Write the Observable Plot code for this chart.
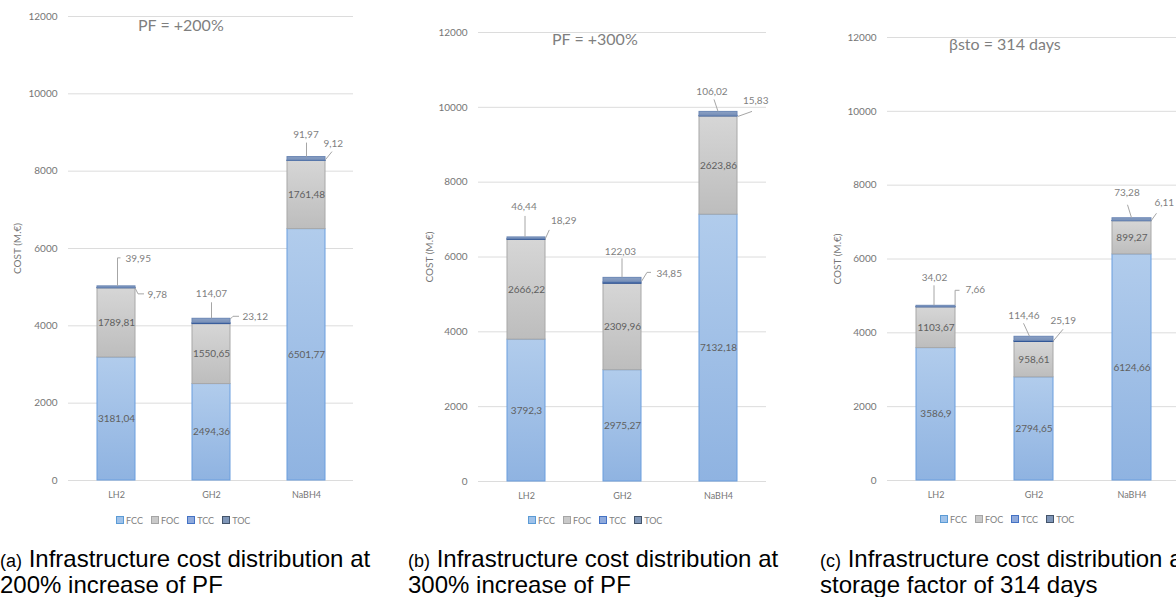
<!DOCTYPE html>
<html>
<head>
<meta charset="utf-8">
<script src="https://cdn.jsdelivr.net/npm/d3@7"></script>
<script src="https://cdn.jsdelivr.net/npm/@observablehq/plot@0.6"></script>
<style>
  html, body { margin: 0; padding: 0; background: #fff; }
  body { width: 1176px; height: 597px; overflow: hidden; position: relative; font-family: Lato, "Open Sans", sans-serif; }
  .panel { position: absolute; top: 0; }
  .note { position: absolute; font-family: Lato, sans-serif; font-size: 16px; line-height: 16px; color: #7f7f7f; white-space: nowrap; }
  .legend { position: absolute; display: flex; align-items: center; height: 10px; font-family: Lato, sans-serif; font-size: 9px; color: #7f7f7f; white-space: nowrap; }
  .legend .item { display: flex; align-items: center; margin-right: 8px; }
  .legend .item:last-child { margin-right: 0; }
  .legend .sw { display: inline-block; width: 6px; height: 6px; border: 1px solid; margin-right: 2px; }
  .caption { position: absolute; font-family: "Liberation Sans", Arial, sans-serif; font-size: 24px; line-height: 23px; color: #000; white-space: nowrap; }
  .caption .tag { font-size: 18px; }
</style>
</head>
<body>
<script>
// ---------------- data ----------------
const categories = ["LH2", "GH2", "NaBH4"];
const seriesNames = ["FCC", "FOC", "TCC", "TOC"];
const yTicks = [0, 2000, 4000, 6000, 8000, 10000, 12000];
const yLabel = "COST (M.€)";

// (a) PF = +200%
const fccA = [3181.04, 2494.36, 6501.77];
const focA = [1789.81, 1550.65, 1761.48];
const tccA = [9.78, 23.12, 9.12];
const tocA = [39.95, 114.07, 91.97];

// (b) PF = +300%
const fccB = [3792.3, 2975.27, 7132.18];
const focB = [2666.22, 2309.96, 2623.86];
const tccB = [18.29, 34.85, 15.83];
const tocB = [46.44, 122.03, 106.02];

// (c) storage factor 314 days
const fccC = [3586.9, 2794.65, 6124.66];
const focC = [1103.67, 958.61, 899.27];
const tccC = [7.66, 25.19, 6.11];
const tocC = [34.02, 114.46, 73.28];

const notes = ["PF = +200%", "PF = +300%", "βsto = 314 days"];
const captionTags = ["(a)", "(b)", "(c)"];
const captionLines = [
  ["Infrastructure cost distribution at", "200% increase of PF"],
  ["Infrastructure cost distribution at", "300% increase of PF"],
  ["Infrastructure cost distribution at", "storage factor of 314 days"]
];

// ---------------- styles ----------------
const seriesStyle = {
  FCC: {top: "#b1ccec", bottom: "#8fb3e1", stroke: "#6a9ede", swatch: "#9fc2ea", swatchStroke: "#5b9bd5"},
  FOC: {top: "#d6d6d6", bottom: "#bdbdbd", stroke: "#a8a8a8", swatch: "#c9c9c9", swatchStroke: "#a5a5a5"},
  TCC: {top: "#3f68b0", bottom: "#2f5597", stroke: "#2f5597", swatch: "#8faadc", swatchStroke: "#4472c4"},
  TOC: {top: "#8aa0c4", bottom: "#7890b8", stroke: "#6a86b4", swatch: "#7f96b8", swatchStroke: "#44546a"}
};

// leader-label layout (pixel offsets from bar top-centre)
const leaderLayouts = [
  [
    {TOC: {text: [9.5, -27, "start"], path: [[1.5, 0], [1.5, -28], [4.5, -28]]},
     TCC: {text: [31.5, 8.5, "start"], path: [[19, 2], [22, 8], [28, 8]]}},
    {TOC: {text: [0.5, -25, "middle"], path: [[0.5, 0], [0.5, -16]]},
     TCC: {text: [31.5, -2, "start"], path: [[19, 1], [22, -2], [28, -2]]}},
    {TOC: {text: [0, -22, "middle"], path: [[0.5, 0], [0.5, -14]]},
     TCC: {text: [17.5, -13, "start"], path: [[19.5, 3], [26, -5]]}}
  ],
  [
    {TOC: {text: [-2, -30, "middle"], path: [[-1, 0], [-1, -21]]},
     TCC: {text: [25, -16, "start"], path: [[19.3, 1.8], [23.3, -7]]}},
    {TOC: {text: [-1.5, -26, "middle"], path: [[0, 0], [0, -19]]},
     TCC: {text: [34.5, -3.5, "start"], path: [[19.5, 4], [25, -5], [29, -5]]}},
    {TOC: {text: [-6, -20, "middle"], path: [[0, 0], [-4, -12]]},
     TCC: {text: [25, -11, "start"], path: [[20, 5], [34, 0]]}}
  ],
  [
    {TOC: {text: [-1, -28, "middle"], path: [[-1.5, 0], [-1.5, -20]]},
     TCC: {text: [30, -16, "start"], path: [[19.6, 0], [19.6, -15], [24, -15]]}},
    {TOC: {text: [-9.5, -21, "middle"], path: [[-4, 0], [-10, -13]]},
     TCC: {text: [17, -16, "start"], path: [[19.5, 5], [29.5, -7]]}},
    {TOC: {text: [-4.5, -25, "middle"], path: [[0, 0], [-4, -13]]},
     TCC: {text: [23, -15.5, "start"], path: [[19.6, 3], [25, -4.5]]}}
  ]
];

const panels = [
  {key: "a", values: {FCC: fccA, FOC: focA, TCC: tccA, TOC: tocA}, left: 0, width: 390,
   marginLeft: 68, marginRight: 37, marginTop: 16, marginBottom: 20, labelOffset: 55,
   note: {left: 138, top: 17}, legend: {center: 183, top: 515}, caption: {left: 0, top: 547}},
  {key: "b", values: {FCC: fccB, FOC: focB, TCC: tccB, TOC: tocB}, left: 390, width: 400,
   marginLeft: 88, marginRight: 24, marginTop: 32, marginBottom: 19, labelOffset: 53,
   note: {left: 552, top: 31}, legend: {center: 595, top: 515}, caption: {left: 408, top: 547}},
  {key: "c", values: {FCC: fccC, FOC: focC, TCC: tccC, TOC: tocC}, left: 790, width: 400,
   marginLeft: 97, marginRight: 9, marginTop: 37, marginBottom: 20, labelOffset: 54,
   note: {left: 949, top: 36}, legend: {center: 1007, top: 514}, caption: {left: 820, top: 547}}
];

const fmt = v => String(v).replace(".", ",");

function buildRows(values) {
  const rows = [];
  categories.forEach((cat, i) => {
    let base = 0;
    for (const s of seriesNames) {
      const v = values[s][i];
      rows.push({cat, series: s, value: v, y1: base, y2: base + v});
      base += v;
    }
  });
  return rows;
}

function makePanel(p, idx) {
  const rows = buildRows(p.values);
  const totals = categories.map(cat => ({cat, total: d3.sum(rows.filter(r => r.cat === cat), r => r.value)}));
  const gid = s => `grad-${p.key}-${s}`;

  const defsMark = () => {
    const g = d3.create("svg:g");
    const defs = g.append("defs");
    for (const s of seriesNames) {
      const st = seriesStyle[s];
      const lg = defs.append("linearGradient").attr("id", gid(s))
        .attr("x1", 0).attr("y1", 0).attr("x2", 0).attr("y2", 1);
      lg.append("stop").attr("offset", "0%").attr("stop-color", st.top);
      lg.append("stop").attr("offset", "100%").attr("stop-color", st.bottom);
    }
    return g.node();
  };

  const leaderMark = (index, scales) => {
    const {x, y} = scales;
    const bw = x.bandwidth ? x.bandwidth() : 38;
    const g = d3.create("svg:g");
    totals.forEach((t, i) => {
      const cx = x(t.cat) + bw / 2;
      const top = y(t.total);
      for (const s of ["TOC", "TCC"]) {
        const L = leaderLayouts[idx][i][s];
        g.append("path")
          .attr("d", d3.line()(L.path.map(([dx, dy]) => [cx + dx, top + dy])))
          .attr("fill", "none").attr("stroke", "#a6a6a6").attr("stroke-width", 1);
        const v = rows.find(r => r.cat === t.cat && r.series === s).value;
        g.append("text")
          .attr("x", cx + L.text[0]).attr("y", top + L.text[1]).attr("dy", "0.35em")
          .attr("text-anchor", L.text[2]).attr("fill", "#7f7f7f")
          .attr("font-size", 10).attr("font-family", "Lato, sans-serif")
          .text(fmt(v));
      }
    });
    return g.node();
  };

  const marks = [
    defsMark,
    Plot.ruleY(yTicks, {stroke: "#dcdcdc", strokeWidth: 1}),
    ...seriesNames.map(s => Plot.barY(rows.filter(r => r.series === s), {
      x: "cat", y1: "y1", y2: "y2",
      fill: `url(#${gid(s)})`, stroke: seriesStyle[s].stroke, strokeWidth: 1
    })),
    Plot.text(rows.filter(r => r.series === "FCC" || r.series === "FOC"), {
      x: "cat", y: r => (r.y1 + r.y2) / 2, text: r => fmt(r.value),
      fill: "#5f5f5f", fontSize: 10
    }),
    leaderMark,
    Plot.axisX({tickSize: 0, tickPadding: 11, fontSize: 9, label: null, fill: "#767676"}),
    Plot.axisY({ticks: yTicks, tickSize: 0, tickPadding: 11, tickFormat: d3.format("d"),
      label: yLabel, labelAnchor: "center", labelOffset: p.labelOffset, labelArrow: "none", fill: "#767676"})
  ];

  const chart = Plot.plot({
    width: p.width, height: 500,
    marginLeft: p.marginLeft, marginRight: p.marginRight, marginTop: p.marginTop, marginBottom: p.marginBottom,
    x: {domain: categories, paddingInner: 0.6, paddingOuter: 0.3},
    y: {domain: [0, 12000]},
    style: {fontFamily: "Lato, sans-serif", fontSize: "10px", color: "#767676", background: "transparent", overflow: "visible"},
    marks
  });
  chart.classList.add("panel");
  chart.style.left = p.left + "px";
  document.body.appendChild(chart);

  // panel note
  const note = document.createElement("div");
  note.className = "note";
  note.style.left = p.note.left + "px";
  note.style.top = p.note.top + "px";
  note.textContent = notes[idx];
  document.body.appendChild(note);

  // legend
  const lg = document.createElement("div");
  lg.className = "legend";
  lg.style.top = p.legend.top + "px";
  for (const s of seriesNames) {
    const item = document.createElement("span");
    item.className = "item";
    const sw = document.createElement("span");
    sw.className = "sw";
    sw.style.background = seriesStyle[s].swatch;
    sw.style.borderColor = seriesStyle[s].swatchStroke;
    item.appendChild(sw);
    item.appendChild(document.createTextNode(s));
    lg.appendChild(item);
  }
  document.body.appendChild(lg);
  lg.style.left = (p.legend.center - lg.offsetWidth / 2) + "px";

  // caption
  const cap = document.createElement("div");
  cap.className = "caption";
  cap.style.left = p.caption.left + "px";
  cap.style.top = p.caption.top + "px";
  const tag = document.createElement("span");
  tag.className = "tag";
  tag.textContent = captionTags[idx];
  cap.appendChild(tag);
  cap.appendChild(document.createTextNode(" " + captionLines[idx][0]));
  cap.appendChild(document.createElement("br"));
  cap.appendChild(document.createTextNode(captionLines[idx][1]));
  document.body.appendChild(cap);
}

panels.forEach(makePanel);
</script>
</body>
</html>
